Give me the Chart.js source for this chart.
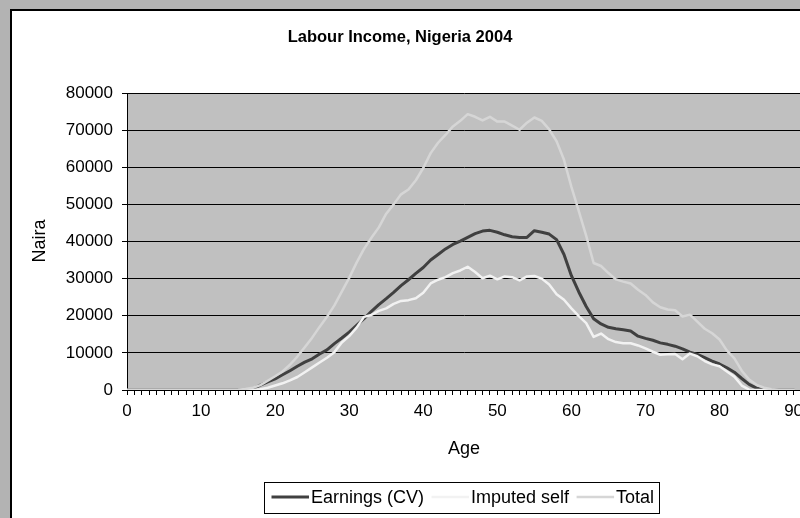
<!DOCTYPE html>
<html>
<head>
<meta charset="utf-8">
<script src="https://cdn.jsdelivr.net/npm/chart.js@4.4.1/dist/chart.umd.min.js"></script>
<style>
  html, body { margin: 0; padding: 0; width: 800px; height: 518px; overflow: hidden; background: #B3B3B3; }
  #frame { position: absolute; left: 10px; top: 9px; width: 900px; height: 600px; background: #ffffff;
           border-left: 2px solid #000; border-top: 2px solid #000; }
  #c { position: absolute; left: 0; top: 0; }
</style>
</head>
<body>
<div id="frame"></div>
<canvas id="c" width="840" height="518"></canvas>
<script>
// ---- data ----
const chartTitle = 'Labour Income, Nigeria 2004';
const xTitle = 'Age';
const yTitle = 'Naira';
const seriesNames = ['Earnings (CV)', 'Imputed self', 'Total'];
const ages = [];
for (let a = 0; a <= 90; a++) ages.push(a);

const earnings = [
  0,0,0,0,0,0,0,0,0,0, 0,0,0,0,0,0,0,300,1300,2200,
  3000,4100,5200,6400,7500,8400,9700,10800,12500,14000,
  15600,17400,19200,21200,23000,24600,26300,28100,29700,31400,
  33000,35000,36500,38000,39200,40100,41100,42100,42800,43000,
  42500,41800,41300,41100,41100,42900,42500,42000,40500,36500,
  30800,26400,22500,19200,17800,16900,16500,16200,15900,14500,
  13900,13400,12700,12300,11800,11100,10200,9600,8700,7800,
  7000,6000,4800,3100,1500,500,100,0,0,0,0
];
const imputed = [
  0,0,0,0,0,0,0,0,0,0, 0,0,0,0,0,0,0,0,200,600,
  1200,1800,2600,3500,4800,6100,7400,8700,10200,12800,
  14500,16800,19700,20200,21300,22000,23200,24000,24200,24700,
  26200,28700,29700,30400,31500,32200,33200,31800,30100,30800,
  29800,30600,30400,29500,30600,30700,30000,28400,25800,24300,
  22000,19900,18000,14300,15200,13700,12900,12600,12600,12000,
  11200,10300,9500,9600,9700,8300,9800,9100,7800,6900,
  6400,5000,3600,1200,100,0,0,0,0,0,0
];
const total = [
  0,0,0,0,0,0,0,0,0,0, 0,0,0,0,0,100,300,600,1300,2500,
  3700,5000,6800,9000,11500,14100,17000,19700,22800,26500,
  30200,34300,38000,41000,43800,47500,50000,52700,54000,56500,
  59800,63800,66600,68700,71000,72500,74300,73600,72600,73600,
  72300,72300,71200,70100,72000,73400,72500,70200,67000,62000,
  54700,48200,41500,34200,33400,31500,29800,29200,28700,27000,
  25600,23600,22300,21700,21500,19800,20300,18400,16500,15300,
  13600,10600,8500,5200,2800,1400,600,200,0,0,0
];
const yTicks = [0, 10000, 20000, 30000, 40000, 50000, 60000, 70000, 80000];
const xLabelEvery = 10;

// ---- styles ----
const FONT = '"Liberation Sans", Arial, sans-serif';
const colors = ['#404040', '#F2F2F2', '#D6D6D6'];
const widths = [3, 2.5, 2.5];

const toPoints = arr => ages.map((a, i) => ({ x: a, y: arr[i] }));

const bgPlugin = {
  id: 'plotbg',
  beforeDraw(chart) {
    const { ctx, chartArea: ca } = chart;
    ctx.save();
    ctx.fillStyle = '#C0C0C0';
    ctx.fillRect(ca.left, ca.top, ca.right - ca.left, ca.bottom - ca.top);
    ctx.restore();
  }
};

const textPlugin = {
  id: 'texts',
  afterDraw(chart) {
    const { ctx, chartArea: ca } = chart;
    ctx.save();
    ctx.fillStyle = '#000';
    // title
    ctx.font = 'bold 16.5px ' + FONT;
    ctx.textAlign = 'center';
    ctx.textBaseline = 'middle';
    ctx.fillText(chartTitle, 400, 37);
    // axis titles
    ctx.font = '18px ' + FONT;
    ctx.fillText(xTitle, (ca.left + 801) / 2, 449);
    ctx.save();
    ctx.translate(40, 241);
    ctx.rotate(-Math.PI / 2);
    ctx.fillText(yTitle, 0, 0);
    ctx.restore();
    // legend
    ctx.fillStyle = '#fff';
    ctx.fillRect(264.5, 482.5, 395, 31);
    ctx.strokeStyle = '#000';
    ctx.lineWidth = 1;
    ctx.strokeRect(264.5, 482.5, 395, 31);
    ctx.font = '18px ' + FONT;
    ctx.textAlign = 'left';
    let x = 271.5;
    const y = 497;
    chart.data.datasets.forEach((ds, i) => {
      ctx.strokeStyle = ds.borderColor;
      ctx.lineWidth = ds.borderWidth;
      ctx.beginPath();
      ctx.moveTo(x, y);
      ctx.lineTo(x + 37.5, y);
      ctx.stroke();
      ctx.fillStyle = '#000';
      ctx.fillText(ds.label, x + 39.5, y + 1);
      x += 39.5 + ctx.measureText(ds.label).width + 7.5;
    });
    ctx.restore();
  }
};

new Chart(document.getElementById('c'), {
  type: 'line',
  data: {
    datasets: [
      { label: seriesNames[0], data: toPoints(earnings), borderColor: colors[0], borderWidth: widths[0], order: 2 },
      { label: seriesNames[1], data: toPoints(imputed), borderColor: colors[1], borderWidth: widths[1], order: 1 },
      { label: seriesNames[2], data: toPoints(total), borderColor: colors[2], borderWidth: widths[2], order: 0 }
    ]
  },
  options: {
    responsive: false,
    animation: false,
    devicePixelRatio: 1,
    elements: { point: { radius: 0 }, line: { tension: 0, borderJoinStyle: 'round', borderCapStyle: 'round' } },
    layout: { padding: { top: 93, left: 0, right: 39, bottom: 88 } },
    plugins: { legend: { display: false }, title: { display: false }, tooltip: { enabled: false } },
    scales: {
      x: {
        type: 'linear', min: 0, max: 91,
        afterFit(s) { s.height = 40; },
        afterBuildTicks(s) {
          s.ticks = [];
          for (let v = 0; v <= 91; v++) s.ticks.push({ value: v });
        },
        ticks: {
          autoSkip: false, maxRotation: 0, padding: 6, color: '#000',
          font: { family: FONT, size: 17 },
          callback: v => (v % xLabelEvery === 0 ? String(v) : '')
        },
        grid: { drawOnChartArea: false, drawTicks: true, tickLength: 5, color: '#000', lineWidth: 1 },
        border: { display: true, color: '#000', width: 1 }
      },
      y: {
        min: yTicks[0], max: yTicks[yTicks.length - 1],
        afterFit(s) { s.width = 127; },
        afterBuildTicks(s) { s.ticks = yTicks.map(v => ({ value: v })); },
        ticks: { padding: 9, color: '#000', font: { family: FONT, size: 17 }, callback: v => String(v) },
        grid: { color: '#000', lineWidth: 1, tickLength: 5, drawTicks: true },
        border: { display: true, color: '#000', width: 1 }
      }
    }
  },
  plugins: [bgPlugin, textPlugin]
});
</script>
</body>
</html>
